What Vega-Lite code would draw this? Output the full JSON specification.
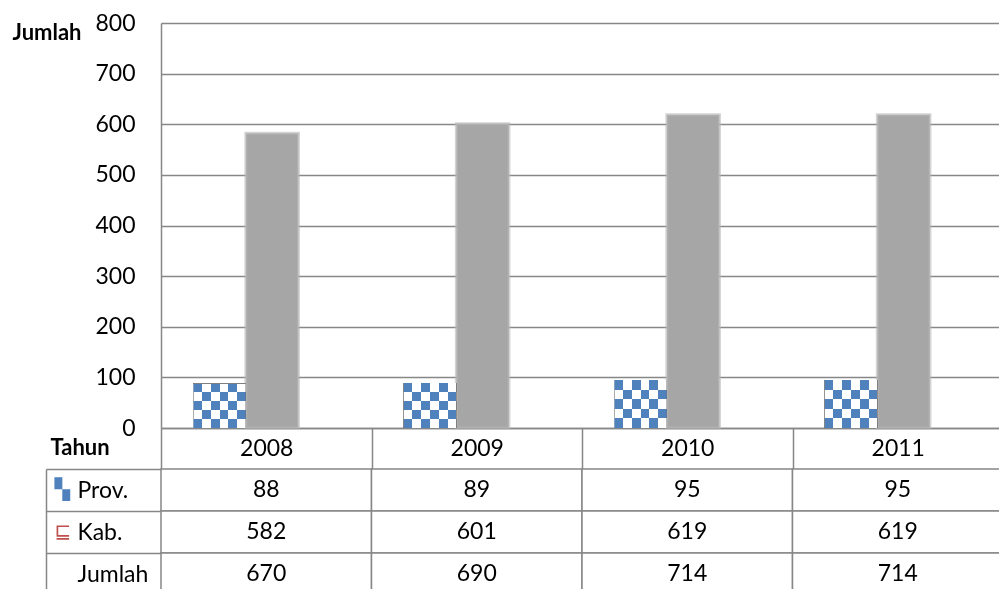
{
  "$schema": "https://vega.github.io/schema/vega-lite/v6.json",
  "padding": {"left": 12, "top": 12, "right": 0, "bottom": 0},
  "spacing": 41,
  "bounds": "flush",
  "background": "white",
  "config": {"view": {"stroke": null}, "font": "Lato"},
  "datasets": {
    "rows": [
      {"year": "2008", "series": "Prov.", "value": 88},
      {"year": "2009", "series": "Prov.", "value": 89},
      {"year": "2010", "series": "Prov.", "value": 95},
      {"year": "2011", "series": "Prov.", "value": 95},
      {"year": "2008", "series": "Kab.", "value": 582},
      {"year": "2009", "series": "Kab.", "value": 601},
      {"year": "2010", "series": "Kab.", "value": 619},
      {"year": "2011", "series": "Kab.", "value": 619},
      {"year": "2008", "series": "Jumlah", "value": 670},
      {"year": "2009", "series": "Jumlah", "value": 690},
      {"year": "2010", "series": "Jumlah", "value": 714},
      {"year": "2011", "series": "Jumlah", "value": 714}
    ]
  },
  "vconcat": [
    {
      "width": 842,
      "height": 405,
      "data": {"name": "rows"},
      "transform": [{"filter": "datum.series !== 'Jumlah'"}],
      "encoding": {
        "x": {
          "field": "year", "type": "nominal",
          "scale": {"paddingInner": 0, "paddingOuter": 0},
          "axis": {
            "labelAngle": 0, "labelFontSize": 23, "labelColor": "#000000",
            "labelBaseline": "middle", "labelPadding": -21,
            "tickBand": "extent", "tickSize": 41, "tickColor": "#878787", "tickWidth": 1.5,
            "domainColor": "#878787", "domainWidth": 1.5,
            "title": "Tahun", "titleFontSize": 22, "titleFontWeight": "bold", "titleColor": "#000000",
            "titleAlign": "left", "titleBaseline": "middle", "titleX": -111, "titleY": 19
          }
        },
        "xOffset": {
          "field": "series", "type": "nominal",
          "scale": {"domain": ["Prov.", "Kab."], "paddingInner": 0, "paddingOuter": 1.193, "align": 0.306}
        },
        "y": {
          "field": "value", "type": "quantitative",
          "scale": {"domain": [0, 800]},
          "axis": {
            "values": [0, 100, 200, 300, 400, 500, 600, 700, 800],
            "grid": true, "gridColor": "#878787", "gridWidth": 1.5,
            "domainColor": "#878787", "domainWidth": 1.5,
            "ticks": false, "labelFontSize": 23, "labelColor": "#000000", "labelPadding": 26,
            "title": "Jumlah", "titleAngle": 0, "titleFontSize": 22, "titleFontWeight": "bold", "titleColor": "#000000",
            "titleAlign": "left", "titleBaseline": "middle", "titleX": -149, "titleY": 9
          }
        }
      },
      "layer": [
        {
          "transform": [{"filter": "datum.series === 'Kab.'"}],
          "mark": {"type": "bar", "fill": "#a6a6a6", "stroke": "#b8b8b8", "strokeOpacity": 0.6, "strokeWidth": 3}
        },
        {
          "transform": [{"filter": "datum.series === 'Prov.'"}],
          "mark": {
            "type": "bar",
            "fill": {"gradient": "linear", "x1": 0, "y1": 0, "x2": 0, "y2": 1, "stops": [
              {"offset": 0, "color": "#000000"}, {"offset": 0.2, "color": "#000000"},
              {"offset": 0.2, "color": "#b07e42"}, {"offset": 0.4, "color": "#b07e42"},
              {"offset": 0.4, "color": "#000000"}, {"offset": 0.6, "color": "#000000"},
              {"offset": 0.6, "color": "#b07e42"}, {"offset": 0.8, "color": "#b07e42"},
              {"offset": 0.8, "color": "#000000"}, {"offset": 1, "color": "#000000"}
            ]}
          }
        },
        {
          "transform": [{"filter": "datum.series === 'Prov.'"}],
          "mark": {
            "type": "bar", "blend": "difference",
            "fill": {"gradient": "linear", "x1": 0, "y1": 0, "x2": 1, "y2": 0, "stops": [
              {"offset": 0, "color": "#b07e42"}, {"offset": 0.1667, "color": "#b07e42"},
              {"offset": 0.1667, "color": "#000000"}, {"offset": 0.3333, "color": "#000000"},
              {"offset": 0.3333, "color": "#b07e42"}, {"offset": 0.5, "color": "#b07e42"},
              {"offset": 0.5, "color": "#000000"}, {"offset": 0.6667, "color": "#000000"},
              {"offset": 0.6667, "color": "#b07e42"}, {"offset": 0.8333, "color": "#b07e42"},
              {"offset": 0.8333, "color": "#000000"}, {"offset": 1, "color": "#000000"}
            ]}
          }
        },
        {
          "transform": [{"filter": "datum.series === 'Prov.'"}],
          "mark": {"type": "bar", "blend": "difference", "fill": "#ffffff"}
        }
      ]
    },
    {
      "width": 842,
      "height": 126,
      "data": {"name": "rows"},
      "encoding": {
        "x": {"field": "year", "type": "nominal", "axis": null, "scale": {"paddingInner": 0, "paddingOuter": 0}}
      },
      "resolve": {"axis": {"y": "independent"}},
      "layer": [
        {
          "mark": {"type": "rect", "fill": "#ffffff", "stroke": "#878787", "strokeWidth": 1.5},
          "encoding": {
            "y": {
              "field": "series", "type": "nominal", "sort": ["Prov.", "Kab.", "Jumlah"],
              "scale": {"paddingInner": 0, "paddingOuter": 0},
              "axis": {
                "orient": "left", "offset": 115, "title": null,
                "domainColor": "#878787", "domainWidth": 1.5,
                "tickBand": "extent", "tickSize": -115, "tickColor": "#878787", "tickWidth": 1.5,
                "labelAlign": "left", "labelPadding": 84, "labelFontSize": 23, "labelColor": "#000000"
              }
            }
          }
        },
        {
          "mark": {"type": "text", "fontSize": 23, "color": "#000000"},
          "encoding": {
            "text": {"field": "value", "type": "quantitative"},
            "y": {
              "field": "series", "type": "nominal", "sort": ["Prov.", "Kab.", "Jumlah"],
              "axis": {
                "orient": "left", "offset": 115, "title": null, "domain": false, "ticks": false,
                "labelAlign": "left", "labelPadding": -8, "labelFontSize": 20, "labelFont": "DejaVu Sans",
                "labelExpr": "datum.value === 'Prov.' ? '▚' : (datum.value === 'Kab.' ? '⊑' : '')",
                "labelColor": {"condition": {"test": "datum.value === 'Prov.'", "value": "#4f81bd"}, "value": "#c0504d"}
              }
            }
          }
        }
      ]
    }
  ]
}
